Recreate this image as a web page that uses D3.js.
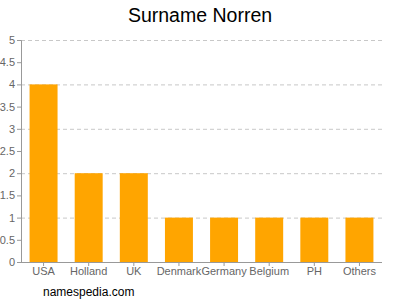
<!DOCTYPE html>
<html>
<head>
<meta charset="utf-8">
<script src="https://cdn.jsdelivr.net/npm/d3@7"></script>
<style>
  body { margin: 0; background: #fff; }
  svg { display: block; font-family: "Liberation Sans", Arial, sans-serif; }
</style>
</head>
<body>
<div id="chart-area"></div>
<script>
// data
const countries = ["USA", "Holland", "UK", "Denmark", "Germany", "Belgium", "PH", "Others"];
const counts = [4, 2, 2, 1, 1, 1, 1, 1];
const yTicks = [0, 0.5, 1, 1.5, 2, 2.5, 3, 3.5, 4, 4.5, 5];

const margin = {top: 40, right: 18, bottom: 38, left: 21},
    width = 400 - margin.left - margin.right,
    height = 300 - margin.top - margin.bottom;

const svg = d3.select("#chart-area")
    .append("svg")
    .attr("width", 400)
    .attr("height", 300);

// title
svg.append("text")
    .attr("x", 200)
    .attr("y", 22)
    .attr("text-anchor", "middle")
    .style("font-size", "19.5px")
    .attr("fill", "#000")
    .text("Surname Norren");

const g = svg.append("g")
    .attr("transform", `translate(${margin.left},${margin.top})`);

const x = d3.scaleBand()
    .domain(countries)
    .range([0, width])
    .paddingInner(0.38)
    .paddingOuter(0.19);

const y = d3.scaleLinear()
    .domain([0, 5])
    .range([height, 0]);

// grid lines
g.selectAll("line.grid")
    .data(yTicks.filter(d => d > 0 && d % 1 === 0))
    .enter().append("line")
    .attr("class", "grid")
    .attr("x1", 0)
    .attr("x2", width)
    .attr("y1", d => y(d) + 0.5)
    .attr("y2", d => y(d) + 0.5)
    .attr("stroke", "#c8c8c8")
    .attr("stroke-dasharray", "4,3");

// bars
g.selectAll("rect.bar")
    .data(counts)
    .enter().append("rect")
    .attr("class", "bar")
    .attr("x", (d, i) => x(countries[i]))
    .attr("y", d => y(d))
    .attr("width", x.bandwidth())
    .attr("height", d => height - y(d))
    .attr("fill", "#ffa500");

// y axis
const yAxis = g.append("g")
    .call(d3.axisLeft(y).tickValues(yTicks).tickSize(4).tickPadding(2).tickFormat(d3.format("")));
yAxis.select(".domain").attr("stroke", "#999").attr("d", `M-4,0.5H0.5V${height + 0.5}`);
yAxis.selectAll(".tick line").attr("stroke", "#999");
yAxis.selectAll("text").attr("fill", "#666").style("font-size", "11px").style("font-family", "Liberation Sans, Arial, sans-serif");

// x axis
const xAxis = g.append("g")
    .attr("transform", `translate(0,${height})`)
    .call(d3.axisBottom(x).tickSize(4).tickPadding(1));
xAxis.select(".domain").attr("stroke", "#999").attr("d", `M0,0.5H${width}`);
xAxis.selectAll(".tick line").attr("stroke", "#999");
xAxis.selectAll("text").attr("fill", "#666").style("font-size", "11px").style("font-family", "Liberation Sans, Arial, sans-serif");

// footer
svg.append("text")
    .attr("x", 43)
    .attr("y", 296)
    .style("font-size", "12px")
    .attr("fill", "#000")
    .text("namespedia.com");
</script>
</body>
</html>
